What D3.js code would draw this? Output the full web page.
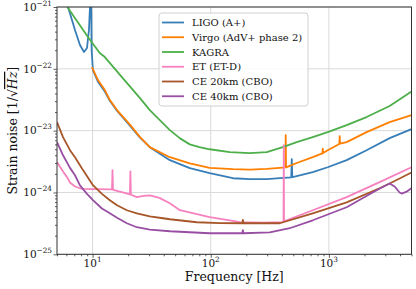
<!DOCTYPE html>
<html><head><meta charset="utf-8">
<script src="https://cdn.jsdelivr.net/npm/d3@7"></script>
<style>
body{margin:0;background:#fff}
svg{display:block}
text{font-family:"DejaVu Serif",serif;fill:#111}
</style>
</head><body>
<svg id="c" width="416" height="289"></svg>
<script>
// ---------- data ----------
const seriesNames = ["LIGO (A+)", "Virgo (AdV+ phase 2)", "KAGRA", "ET (ET-D)", "CE 20km (CBO)", "CE 40km (CBO)"];
const seriesColors = ["#377eb8", "#ff7f00", "#4daf4a", "#f781bf", "#a65628", "#984ea3"];

const ligoF = [5.5, 6.2, 7.1, 7.82, 8.46, 8.97, 9.32, 9.55, 9.65, 9.75, 9.82, 10.07, 11.1, 12.7, 14.0, 16.1, 20.7, 25.2, 30.5, 45.1, 66.5, 98, 154, 214, 298, 384, 480, 485, 490, 494, 730, 977, 1413, 2084, 3266, 5000];
const ligoH = [2.0e-21, 1.0e-21, 4.25e-22, 2.43e-22, 1.87e-22, 2.17e-22, 4.25e-22, 1.2e-21, 3e-21, 8e-22, 2.0e-22, 9.5e-23, 6.2e-23, 4.3e-23, 3.05e-23, 2.1e-23, 1.2e-23, 7.7e-24, 5.4e-24, 3.33e-24, 2.47e-24, 2.05e-24, 1.70e-24, 1.64e-24, 1.64e-24, 1.70e-24, 1.76e-24, 3.46e-24, 1.77e-24, 1.77e-24, 2.13e-24, 2.56e-24, 3.33e-24, 4.83e-24, 7.57e-24, 1.06e-23];

const virgoF = [9.88, 11.1, 12.7, 14.0, 16.1, 20.7, 25.2, 30.5, 45.1, 66.5, 98, 154, 214, 298, 384, 428, 431, 434, 466, 534, 730, 880, 887, 894, 977, 1225, 1234, 1243, 1413, 2084, 3266, 5000];
const virgoH = [1.07e-22, 6.57e-23, 4.53e-23, 3.12e-23, 2.15e-23, 1.25e-23, 7.85e-24, 5.41e-24, 3.72e-24, 2.95e-24, 2.5e-24, 2.38e-24, 2.35e-24, 2.4e-24, 2.5e-24, 2.55e-24, 8.45e-24, 2.55e-24, 2.7e-24, 3.0e-24, 3.72e-24, 4.3e-24, 5.1e-24, 4.35e-24, 4.83e-24, 6.1e-24, 8.15e-24, 6.15e-24, 6.52e-24, 9.46e-24, 1.37e-23, 1.78e-23];

const kagraF = [5.0, 6.2, 9.14, 11.5, 12.7, 17.7, 25.2, 30.5, 45.1, 55, 66.5, 80, 98, 145, 214, 298, 407, 534, 730, 977, 1413, 2084, 3266, 5000];
const kagraH = [2.5e-21, 9.6e-22, 3.27e-22, 1.8e-22, 1.55e-22, 7.35e-23, 3.36e-23, 2.15e-23, 1.02e-23, 7.5e-24, 6.0e-24, 5.4e-24, 5.0e-24, 4.49e-24, 4.32e-24, 4.49e-24, 5.41e-24, 6.52e-24, 7.85e-24, 9.46e-24, 1.23e-23, 1.66e-23, 2.5e-23, 4.3e-23];

const etF = [5.0, 5.6, 6.08, 6.44, 7.1, 7.82, 8.3, 10.07, 14.6, 14.75, 14.9, 15.5, 18, 20.7, 20.9, 21.1, 23.7, 27, 30.5, 35.0, 37.1, 45.1, 54.8, 98, 145, 176, 275, 400, 413, 415, 417, 730, 1413, 2685, 5000];
const etH = [3.1e-24, 2.2e-24, 1.77e-24, 1.45e-24, 1.25e-24, 1.17e-24, 1.14e-24, 1.13e-24, 1.12e-24, 2.3e-24, 1.11e-24, 1.08e-24, 1.0e-24, 9.3e-25, 2.2e-24, 9.2e-25, 8.4e-25, 8.8e-25, 9.0e-25, 8.4e-25, 8.1e-25, 6.7e-25, 5.16e-25, 3.98e-25, 3.55e-25, 3.3e-25, 3.25e-25, 3.3e-25, 3.35e-25, 5.82e-24, 3.4e-25, 5.16e-25, 8.4e-25, 1.47e-24, 2.56e-24];

const ce20F = [5.0, 5.62, 6.44, 7.1, 7.82, 8.3, 10.07, 12.0, 14.0, 16.1, 19.5, 23.7, 30.5, 39.4, 45.1, 76.2, 120, 185, 187, 189, 384, 730, 1413, 2685, 3266, 5000];
const ce20H = [1.37e-23, 7.85e-24, 4.83e-24, 3.7e-24, 2.76e-24, 2.3e-24, 1.31e-24, 9.5e-25, 7.5e-25, 6.2e-25, 5.16e-25, 4.61e-25, 4.1e-25, 3.83e-25, 3.69e-25, 3.3e-25, 3.2e-25, 3.18e-25, 3.6e-25, 3.18e-25, 3.18e-25, 4.6e-25, 6.9e-25, 1.17e-24, 1.4e-24, 2.1e-24];

const ce40F = [5.0, 5.62, 6.44, 7.1, 7.82, 8.97, 10.07, 12.0, 14.0, 16.1, 19.5, 23.7, 30.5, 45.1, 98, 185, 187, 189, 316, 466, 730, 1413, 2344, 2800, 3266, 3600, 3966, 4125, 4500, 5000];
const ce40H = [6.5e-24, 4.0e-24, 2.5e-24, 1.9e-24, 1.3e-24, 9.5e-25, 7.5e-25, 5.5e-25, 4.6e-25, 3.9e-25, 3.18e-25, 2.74e-25, 2.5e-25, 2.36e-25, 2.19e-25, 2.19e-25, 2.45e-25, 2.19e-25, 2.27e-25, 2.64e-25, 3.55e-25, 5.77e-25, 1.0e-24, 1.2e-24, 1.4e-24, 1.25e-24, 1.0e-24, 9.6e-25, 1.02e-24, 1.17e-24];

const xMajor = [10, 100, 1000];
const xTickExp = ["1", "2", "3"];
const yMajor = [1e-25, 1e-24, 1e-23, 1e-22, 1e-21];
const yTickExp = ["\u221225", "\u221224", "\u221223", "\u221222", "\u221221"];
const xLabel = "Frequency [Hz]";

// ---------- layout ----------
const svg = d3.select("#c");
const L = 57, R = 411.5, T = 7, B = 254.3;
const x = d3.scaleLog().domain([5, 5000]).range([L, R]);
const y = d3.scaleLog().domain([1e-25, 1e-21]).range([B, T]);

const fs = [ligoF, virgoF, kagraF, etF, ce20F, ce40F];
const hs = [ligoH, virgoH, kagraH, etH, ce20H, ce40H];

// grid
const grid = svg.append("g");
grid.selectAll(".gx").data(xMajor).join("line")
  .attr("x1", d => x(d)).attr("x2", d => x(d)).attr("y1", T).attr("y2", B)
  .attr("stroke", "#d9d9d9").attr("stroke-width", 1);
grid.selectAll(".gy").data(yMajor).join("line")
  .attr("y1", d => y(d)).attr("y2", d => y(d)).attr("x1", L).attr("x2", R)
  .attr("stroke", "#d9d9d9").attr("stroke-width", 1);

// clip
svg.append("clipPath").attr("id", "clip").append("rect")
  .attr("x", L).attr("y", T).attr("width", R - L).attr("height", B - T);

const line = d3.line().x(d => x(d[0])).y(d => y(d[1]));
const plot = svg.append("g").attr("clip-path", "url(#clip)");
fs.forEach((f, i) => {
  const pts = f.map((v, j) => [v, hs[i][j]]);
  plot.append("path").datum(pts).attr("d", line)
    .attr("fill", "none").attr("stroke", seriesColors[i])
    .attr("stroke-width", 1.8).attr("stroke-linejoin", "round");
});

// axes (ticks)
const xMinor = x.ticks().filter(t => !xMajor.includes(t));
const yMinor = y.ticks().filter(t => !yMajor.some(m => Math.abs(m - t) / m < 1e-6));
const gxA = svg.append("g").attr("transform", `translate(0,${B})`)
  .call(d3.axisBottom(x).tickValues(xMajor).tickSize(3.5).tickFormat(""));
const gxm = svg.append("g").attr("transform", `translate(0,${B})`)
  .call(d3.axisBottom(x).tickValues(xMinor).tickSize(2).tickFormat(""));
const gyA = svg.append("g").attr("transform", `translate(${L},0)`)
  .call(d3.axisLeft(y).tickValues(yMajor).tickSize(3.5).tickFormat(""));
const gym = svg.append("g").attr("transform", `translate(${L},0)`)
  .call(d3.axisLeft(y).tickValues(yMinor).tickSize(2).tickFormat(""));
[gxA, gxm, gyA, gym].forEach(g => {
  g.select(".domain").remove();
  g.selectAll("line").attr("stroke", "#333").attr("stroke-width", 0.8);
});

// frame
svg.append("rect").attr("x", L).attr("y", T).attr("width", R - L).attr("height", B - T)
  .attr("fill", "none").attr("stroke", "#333").attr("stroke-width", 1);

// tick labels
xMajor.forEach((t, i) => {
  const tx = svg.append("text").attr("x", x(t)).attr("y", B + 12.5)
    .attr("text-anchor", "middle").attr("font-size", 10.5);
  tx.append("tspan").text("10");
  tx.append("tspan").attr("dy", -5).attr("font-size", 7.3).text(xTickExp[i]);
});
yMajor.forEach((t, i) => {
  const tx = svg.append("text").attr("x", 52).attr("y", y(t) + 3.8)
    .attr("text-anchor", "end").attr("font-size", 10.5);
  tx.append("tspan").text("10");
  tx.append("tspan").attr("dy", -5).attr("font-size", 7.3).text(yTickExp[i]);
});

// axis labels
svg.append("text").attr("x", (L + R) / 2).attr("y", 281)
  .attr("text-anchor", "middle").attr("font-size", 12.5).text(xLabel);
const yl = svg.append("text").attr("transform", `translate(17,${(T + B) / 2}) rotate(-90)`)
  .attr("text-anchor", "middle").attr("font-size", 12.5);
yl.append("tspan").text("Strain noise [1/\u221A");
yl.append("tspan").attr("font-style", "italic").style("text-decoration", "overline").text("Hz");
yl.append("tspan").text("]");

// legend
const lg = svg.append("g");
lg.append("rect").attr("x", 159).attr("y", 13).attr("width", 149).attr("height", 93)
  .attr("rx", 3).attr("fill", "#fff").attr("fill-opacity", 0.85)
  .attr("stroke", "#d0d0d0").attr("stroke-width", 1);
seriesNames.forEach((n, i) => {
  const yy = 22.5 + i * 14.75;
  lg.append("line").attr("x1", 162).attr("x2", 184).attr("y1", yy).attr("y2", yy)
    .attr("stroke", seriesColors[i]).attr("stroke-width", 1.8);
  lg.append("text").attr("x", 192).attr("y", yy + 3.6).attr("font-size", 10).text(n);
});
</script>
</body></html>
